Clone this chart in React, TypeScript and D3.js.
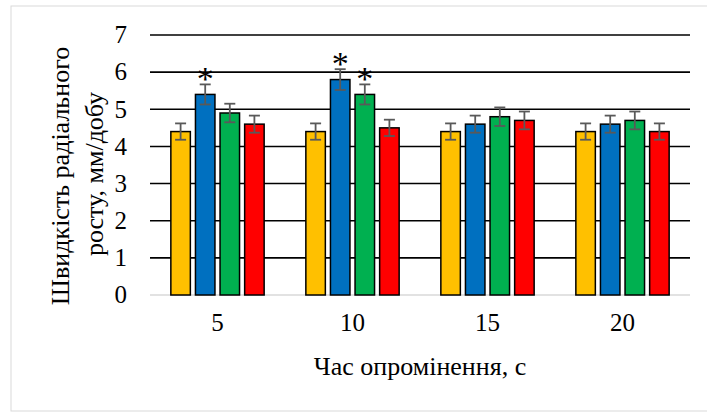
import React from "react";
import * as d3 from "d3";

const categories = ["5", "10", "15", "20"];
const seriesNames = ["s1", "s2", "s3", "s4"];
const seriesColors = ["#FFC000", "#0070C0", "#00B050", "#FF0000"];
const yellowValues = [4.4, 4.4, 4.4, 4.4];
const blueValues = [5.4, 5.8, 4.6, 4.6];
const greenValues = [4.9, 5.4, 4.8, 4.7];
const redValues = [4.6, 4.5, 4.7, 4.4];
const yellowErr = [0.22, 0.22, 0.22, 0.22];
const blueErr = [0.27, 0.28, 0.23, 0.23];
const greenErr = [0.25, 0.27, 0.25, 0.24];
const redErr = [0.23, 0.22, 0.24, 0.22];
const significant = [
  [false, false, false, false],
  [true, true, false, false],
  [false, true, false, false],
  [false, false, false, false],
];
const yTicks = [0, 1, 2, 3, 4, 5, 6, 7];
const yTitle = ["Швидкість радіального", "росту, мм/добу"];
const xTitle = "Час опромінення, с";

const values = [yellowValues, blueValues, greenValues, redValues];
const errors = [yellowErr, blueErr, greenErr, redErr];

const FONT = "Liberation Serif";

export default function App() {
  const W = 707, H = 412;
  const left = 150, right = 690, top = 35, bottom = 295;
  const x = d3.scaleBand<string>().domain(categories).range([left, right]);
  const y = d3.scaleLinear().domain([0, 7]).range([bottom, top]);
  const barW = 19.5;
  const step = 24.6;
  const fs = 25;
  const tfs = 26;

  return (
    <svg width={W} height={H} style={{ position: "absolute", left: 0, top: 0 }}>
      <style>{`text { font-family: "Liberation Serif", "Tinos", "Times New Roman", serif !important; }`}</style>
      <rect x={0} y={0} width={W} height={H} fill="#fff" />
      <rect x={11} y={6} width={W} height={405} fill="#fff" stroke="#d9d9d9" strokeWidth={1} />
      {yTicks.filter((t) => t > 0).map((t) => (
        <line key={t} x1={left} x2={right} y1={y(t)} y2={y(t)} stroke="#000" strokeWidth={1.6} />
      ))}
      <line x1={left} x2={right} y1={y(0)} y2={y(0)} stroke="#d9d9d9" strokeWidth={1.6} />
      {yTicks.map((t) => (
        <text key={t} x={127} y={y(t)} dy="0.33em" textAnchor="end" fontFamily={FONT} fontSize={fs} fill="#000">{t}</text>
      ))}
      {categories.map((c, ci) => {
        const cx = (x(c) as number) + x.bandwidth() / 2;
        return (
          <g key={c}>
            {seriesNames.map((s, si) => {
              const bx = cx + (si - 1.5) * step;
              const v = values[si][ci];
              const e = errors[si][ci];
              const eTop = y(v + e);
              const eBot = y(v - e);
              return (
                <g key={s}>
                  <rect x={bx - barW / 2} y={y(v)} width={barW} height={y(0) - y(v)} fill={seriesColors[si]} stroke="#000" strokeWidth={1.5} />
                  <line x1={bx} x2={bx} y1={eBot} y2={eTop} stroke="#595959" strokeWidth={1.8} />
                  <line x1={bx - 5.5} x2={bx + 5.5} y1={eTop} y2={eTop} stroke="#595959" strokeWidth={1.8} />
                  <line x1={bx - 5.5} x2={bx + 5.5} y1={eBot} y2={eBot} stroke="#595959" strokeWidth={1.8} />
                  {significant[si][ci] && (
                    <text x={bx} y={eTop + 6} textAnchor="middle" fontFamily={FONT} fontSize={34} fill="#000">*</text>
                  )}
                </g>
              );
            })}
            <text x={cx} y={323} dy="0.33em" textAnchor="middle" fontFamily={FONT} fontSize={fs} fill="#000">{c}</text>
          </g>
        );
      })}
      <text x={420} y={366} dy="0.33em" textAnchor="middle" fontFamily={FONT} fontSize={tfs} fill="#000">{xTitle}</text>
      <text transform="translate(60,176) rotate(-90)" dy="0.33em" textAnchor="middle" fontFamily={FONT} fontSize={tfs} fill="#000">{yTitle[0]}</text>
      <text transform="translate(94,174) rotate(-90)" dy="0.33em" textAnchor="middle" fontFamily={FONT} fontSize={tfs} fill="#000">{yTitle[1]}</text>
    </svg>
  );
}
